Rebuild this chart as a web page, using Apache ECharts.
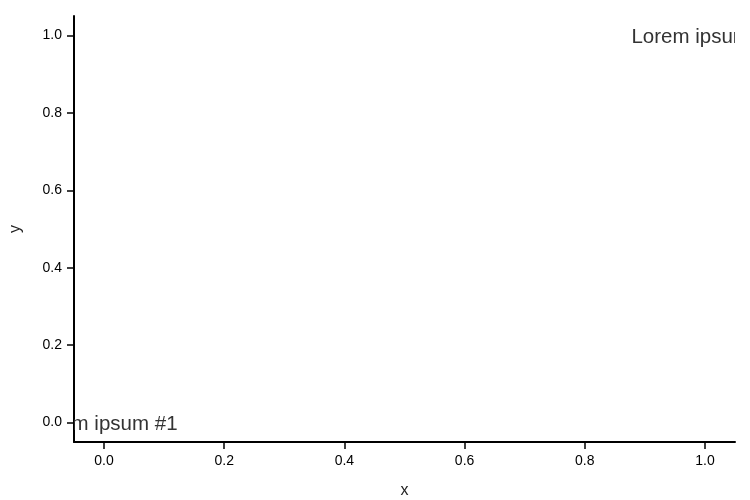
<!DOCTYPE html>
<html><head><meta charset="utf-8">
<script src="https://cdn.jsdelivr.net/npm/echarts@6/dist/echarts.min.js"></script>
<style>html,body{margin:0;padding:0;background:#fff}#c{width:750px;height:500px}</style>
</head><body><div id="c"></div>
<script>
const labelTexts = ["Lorem ipsum #1", "Lorem ipsum #2"];
const labelX = [0, 1];
const labelY = [0, 1];
const xTicks = [0, 0.2, 0.4, 0.6, 0.8, 1.0];
const yTicks = [0, 0.2, 0.4, 0.6, 0.8, 1.0];

const chart = echarts.init(document.getElementById('c'), null, {renderer: 'canvas'});
function makeAxis(name, ticks, nameGap, margin) {
  return {
    type: 'value', min: -0.05, max: 1.05,
    name: name, nameLocation: 'middle', nameGap: nameGap,
    nameTextStyle: {color: '#222', fontSize: 16, fontFamily: 'Liberation Sans, Arial, sans-serif'},
    axisLine: {show: true, onZero: false, lineStyle: {color: '#000', width: 2}},
    axisTick: {show: true, length: 7, customValues: ticks, lineStyle: {color: '#000', width: 1.5}},
    axisLabel: {show: true, customValues: ticks, margin: margin, color: '#000', fontSize: 14,
      fontFamily: 'Liberation Sans, Arial, sans-serif', formatter: v => Number(v).toFixed(1)},
    splitLine: {show: false}
  };
}
chart.setOption({
  animation: false,
  grid: {left: 74, right: 15, top: 16, bottom: 58, containLabel: false, outerBoundsMode: 'none'},
  xAxis: makeAxis('x', xTicks, 41, 12),
  yAxis: makeAxis('y', yTicks, 50, 12),
  series: [{
    type: 'custom',
    clip: true,
    data: labelTexts.map((t, i) => [labelX[i], labelY[i], t]),
    renderItem: function (params, api) {
      const p = api.coord([api.value(0), api.value(1)]);
      return {
        type: 'text',
        x: p[0], y: p[1] + 1.5,
        style: {
          text: labelTexts[params.dataIndex],
          fill: '#333',
          fontSize: 20.5,
          fontFamily: 'Liberation Sans, Arial, sans-serif',
          align: 'center',
          verticalAlign: 'middle'
        }
      };
    }
  }]
});
</script></body></html>
